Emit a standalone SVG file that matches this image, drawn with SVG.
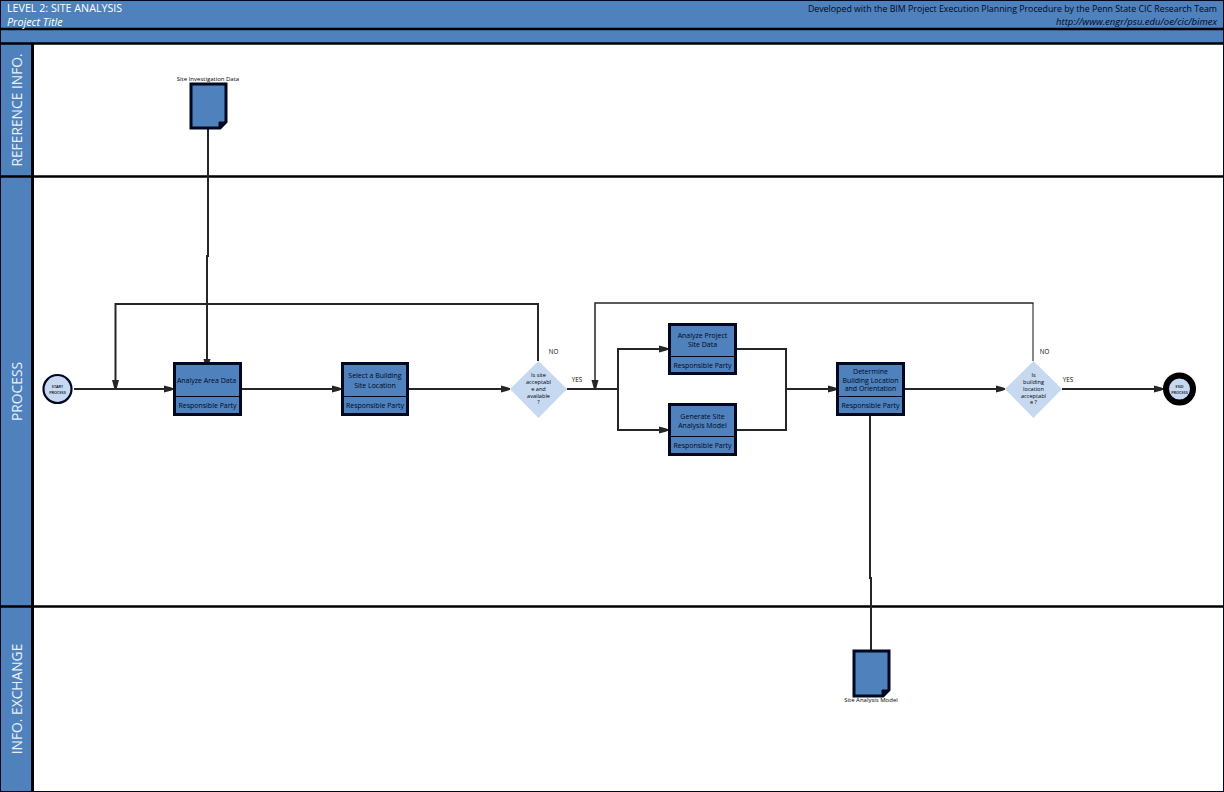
<svg xmlns="http://www.w3.org/2000/svg" width="1224" height="792" viewBox="0 0 1224 792">
<style>
text{font-family:"Open Sans","DejaVu Sans",sans-serif}
.band{fill:#4f81bd}
.rule{stroke:#000;stroke-width:2.6;fill:none}
.lane{fill:#e8eff8;font-size:13.800px;text-anchor:middle}
.box{fill:#4f81bd;stroke:#000820;stroke-width:3}
.div{stroke:#000820;stroke-width:1}
.t{fill:#000820;font-size:7px;text-anchor:middle}
.lab{fill:#000;font-size:6.200px;text-anchor:middle}
.s{fill:#000;font-size:6px;text-anchor:middle}
.c{fill:#000;font-size:3.800px;font-weight:600;text-anchor:middle}
.d{fill:#000;font-size:5.600px;text-anchor:middle}
.dia{fill:#c6d9f1}
.conn{stroke:#262626;stroke-width:2;fill:none}
.thin{stroke:#262626;stroke-width:1.500;fill:none}
.hair{stroke:#262626;stroke-width:1.100;fill:none}
.ah{fill:#262626}
</style>
<defs>
<marker id="a" markerUnits="userSpaceOnUse" markerWidth="10" markerHeight="8" refX="9" refY="4" orient="auto"><path class="ah" d="M0,0.500 L7.500,2.500 L9,4 L7.500,5.500 L0,7.500 Z"/></marker>
</defs>
<g id="frame">
<rect x="0" y="0" width="1224" height="792" fill="#fff"/>
<rect class="band" x="1" y="1" width="1222" height="28"/>
<rect class="band" x="1" y="30" width="1222" height="13"/>
<rect class="band" x="1" y="44" width="31" height="747"/>
<path class="rule" d="M0,29 H1224 M0,43.500 H1224 M0,176.500 H1224 M0,606.500 H1224"/>
<path d="M32.500,43 V792" stroke="#000" stroke-width="3" fill="none"/>
<path d="M0.500,0 V792 M1223.500,0 V792 M0,0.500 H1224 M0,791.500 H1224" stroke="#000820" stroke-width="1" fill="none"/>
<text x="7" y="12" fill="#fff" font-size="10.700">LEVEL 2: SITE ANALYSIS</text>
<text x="7" y="26" fill="#fff" font-size="10.800" font-style="italic">Project Title</text>
<text x="1217" y="12" fill="#000820" font-size="8.800" text-anchor="end">Developed with the BIM Project Execution Planning Procedure by the Penn State CIC Research Team</text>
<text x="1217" y="25" fill="#000820" font-size="9.500" font-style="italic" text-anchor="end">http://www.engr/psu.edu/oe/cic/bimex</text>
<text class="lane" transform="translate(21.500,110) rotate(-90)">REFERENCE INFO.</text>
<text class="lane" transform="translate(21.500,391.500) rotate(-90)">PROCESS</text>
<text class="lane" transform="translate(21.500,699) rotate(-90)">INFO. EXCHANGE</text>
</g>
<g id="connectors">
<path class="conn" marker-end="url(#a)" d="M74,389 H173"/>
<path class="conn" d="M208,128 V256 H207 V362"/>
<path class="conn" marker-end="url(#a)" d="M207,352 V368"/>
<path class="conn" marker-end="url(#a)" d="M241,389 H341"/>
<path class="conn" marker-end="url(#a)" d="M408,389 H510"/>
<path class="conn" marker-end="url(#a)" d="M538,361 V304 H115.500 V389"/>
<path class="conn" d="M567,389 H618"/>
<path class="conn" marker-end="url(#a)" d="M618,389 V349 H668"/>
<path class="conn" marker-end="url(#a)" d="M618,389 V430 H668"/>
<path class="conn" d="M736,349 H786 V430 H736"/>
<path class="conn" marker-end="url(#a)" d="M786,389 H837"/>
<path class="conn" marker-end="url(#a)" d="M904,389 H1005"/>
<path class="hair" d="M1033,361 V303"/>
<path class="thin" marker-end="url(#a)" d="M1033.500,303 H595 V389"/>
<path class="conn" marker-end="url(#a)" d="M1062,389 H1163"/>
<path class="conn" d="M870,416 V578 H871 V650"/>
</g>
<g id="doc-site-investigation">
<path d="M191,84 H226 V122 L220,128 H191 Z" fill="#4f81bd" stroke="#000820" stroke-width="3"/>
<path d="M226,122 L220,128 H219 V122 Z" fill="#000820" stroke="#000820" stroke-width="1"/>
<text class="s" x="208" y="80.500">Site Investigation Data</text>
</g>
<g id="start">
<circle cx="57.500" cy="389" r="14" fill="#c6d9f1" stroke="#000820" stroke-width="2.200"/>
<text class="c" x="57.500" y="387.500">START</text>
<text class="c" x="57.500" y="393.500">PROCESS</text>
</g>
<g id="task-analyze-area">
<rect class="box" x="174.500" y="363.500" width="66" height="51"/>
<path class="div" d="M175,396.500 H240"/>
<text class="t" x="206.500" y="383">Analyze Area Data</text>
<text class="t" x="207.500" y="408">Responsible Party</text>
</g>
<g id="task-select-site">
<rect class="box" x="342.500" y="363.500" width="65" height="51"/>
<path class="div" d="M343,396.500 H407"/>
<text class="t" x="375" y="378">Select a Building</text>
<text class="t" x="375" y="388">Site Location</text>
<text class="t" x="375" y="408">Responsible Party</text>
</g>
<g id="decision-site">
<path class="dia" d="M538.500,361 L567,389 L538.500,418 L510,389 Z"/>
<text class="d" x="538.500" y="376.500">Is site</text>
<text class="d" x="538.500" y="383.500">acceptabl</text>
<text class="d" x="538.500" y="390.500">e and</text>
<text class="d" x="538.500" y="397.500">available</text>
<text class="d" x="538.500" y="404">?</text>
</g>
<g id="task-analyze-project">
<rect class="box" x="669.500" y="324.500" width="66" height="49"/>
<path class="div" d="M670,356.500 H735"/>
<text class="t" x="702.500" y="338">Analyze Project</text>
<text class="t" x="702.500" y="347">Site Data</text>
<text class="t" x="702.500" y="368">Responsible Party</text>
</g>
<g id="task-generate-model">
<rect class="box" x="669.500" y="404.500" width="66" height="50"/>
<path class="div" d="M670,436.500 H735"/>
<text class="t" x="702.500" y="419">Generate Site</text>
<text class="t" x="702.500" y="428">Analysis Model</text>
<text class="t" x="702.500" y="448">Responsible Party</text>
</g>
<g id="task-determine">
<rect class="box" x="837.500" y="363.500" width="66" height="51"/>
<path class="div" d="M838,396.500 H903"/>
<text class="t" x="870.500" y="374">Determine</text>
<text class="t" x="870.500" y="383">Building Location</text>
<text class="t" x="870.500" y="391">and Orientation</text>
<text class="t" x="870.500" y="408">Responsible Party</text>
</g>
<g id="decision-location">
<path class="dia" d="M1033.500,361 L1062,389 L1033.500,418 L1005,389 Z"/>
<text class="d" x="1033.500" y="377">Is</text>
<text class="d" x="1033.500" y="384">building</text>
<text class="d" x="1033.500" y="391">location</text>
<text class="d" x="1033.500" y="398">acceptabl</text>
<text class="d" x="1033.500" y="404">e ?</text>
</g>
<g id="end">
<circle cx="1179.500" cy="389" r="13.500" fill="#c6d9f1" stroke="#000" stroke-width="6"/>
<text class="c" x="1179.500" y="387.500">END</text>
<text class="c" x="1179.500" y="393.500">PROCESS</text>
</g>
<g id="doc-site-model">
<path d="M854,651 H889 V690 L883,696 H854 Z" fill="#4f81bd" stroke="#000820" stroke-width="3"/>
<path d="M889,690 L883,696 H882 V690 Z" fill="#000820" stroke="#000820" stroke-width="1"/>
<text class="s" x="871" y="701.500">Site Analysis Model</text>
</g>
<g id="labels">
<text class="lab" x="553.500" y="354">NO</text>
<text class="lab" x="577" y="382">YES</text>
<text class="lab" x="1044.500" y="354">NO</text>
<text class="lab" x="1068" y="381.500">YES</text>
</g>
</svg>
